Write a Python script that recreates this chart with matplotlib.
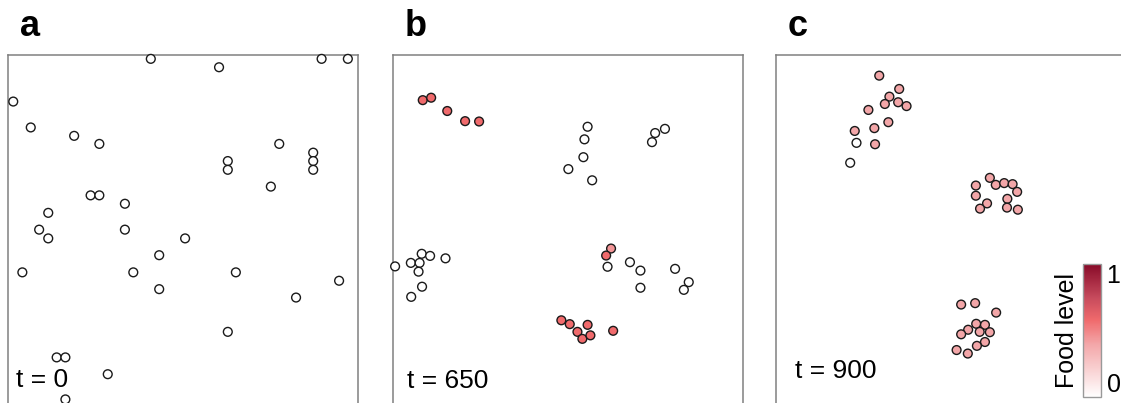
import numpy as np
import matplotlib.pyplot as plt
from matplotlib.colors import LinearSegmentedColormap

# agent positions (arena units 0-100) and food level for each snapshot
a_x = [40.8, 60.3, 89.6, 97.1, 1.5, 6.5, 18.9, 26.1, 77.5, 87.2, 87.2, 87.2,
       62.8, 62.8, 75.1, 23.6, 26.1, 33.4, 11.5, 8.9, 11.5, 33.4, 50.6, 43.2,
       4.1, 35.8, 65.1, 94.6, 43.2, 82.3, 62.8, 13.9, 16.4, 28.5, 16.4]
a_y = [98.9, 96.5, 98.9, 98.9, 86.7, 79.3, 76.9, 74.6, 74.6, 72.1, 69.7, 67.2,
       69.7, 67.2, 62.4, 59.9, 59.9, 57.5, 54.9, 50.1, 47.6, 50.1, 47.6, 42.8,
       37.9, 37.9, 37.9, 35.5, 33.1, 30.7, 20.9, 13.6, 13.6, 8.8, 1.6]
a_food = [0.0] * len(a_x)

b_x = [8.5, 10.9, 15.5, 20.6, 24.6, 62.3, 60.9,
       48.1, 50.5, 52.7, 54.1, 56.4, 55.6, 62.9,
       55.6, 54.7, 54.4, 50.1, 56.9, 74.0, 74.9, 77.7,
       0.6, 5.1, 7.6, 8.2, 10.6, 15.0, 7.3, 8.3, 5.2,
       61.3, 67.7, 70.7, 70.7, 80.6, 84.5, 83.1]
b_y = [87.1, 87.8, 84.0, 81.1, 81.0, 44.7, 42.7,
       24.2, 23.1, 20.9, 18.9, 19.9, 22.9, 21.2,
       79.5, 75.9, 70.8, 67.4, 64.2, 75.1, 77.7, 78.9,
       39.6, 40.6, 40.6, 43.2, 42.6, 41.9, 38.1, 33.8, 30.9,
       39.5, 40.8, 38.4, 33.5, 38.9, 35.1, 32.9]
b_food = [0.58, 0.58, 0.58, 0.58, 0.58, 0.45, 0.58,
          0.58, 0.58, 0.58, 0.58, 0.58, 0.58, 0.58] + [0.0] * 24

c_x = [29.5, 35.2, 32.4, 31.1, 34.9, 37.3, 26.4, 32.1, 28.1, 22.5, 28.3,
       23.0, 21.2,
       61.1, 62.8, 65.2, 67.6, 68.9, 57.1, 57.1, 66.1, 60.3, 58.3, 66.0, 69.1,
       52.9, 56.9, 62.9, 57.2, 59.7, 54.9, 58.2, 61.1, 52.9, 59.7, 57.4, 51.6, 54.8]
c_y = [94.1, 90.3, 88.1, 86.0, 86.5, 85.4, 84.3, 80.8, 79.1, 78.3, 74.5,
       74.9, 69.2,
       64.9, 62.9, 63.4, 63.1, 60.9, 62.7, 59.8, 58.9, 57.6, 56.1, 56.4, 55.8,
       28.7, 29.1, 26.4, 23.2, 22.9, 21.5, 20.9, 20.8, 20.2, 18.0, 16.9, 15.7, 14.7]
c_food = [0.4] * 11 + [0.0, 0.0] + [0.4] * 25

panels = [("a", "t = 0", a_x, a_y, a_food),
          ("b", "t = 650", b_x, b_y, b_food),
          ("c", "t = 900", c_x, c_y, c_food)]

food_cmap = LinearSegmentedColormap.from_list(
    "food", [(0, "#ffffff"), (0.4, "#f3a6a8"), (0.58, "#f06a6c"),
             (0.75, "#c64a5c"), (1, "#870a28")])

W, H = 1121, 403
fig = plt.figure(figsize=(W / 100, H / 100), dpi=100)
plt.rcParams['font.family'] = ['Liberation Sans', 'DejaVu Sans']

lefts = [8, 393, 776]
t_pos = [(0.023, 0.052), (0.039, 0.049), (0.054, 0.077)]
for (letter, tlabel, xs, ys, food), left, tp in zip(panels, lefts, t_pos):
    ax = fig.add_axes([left / W, -2 / H, 350 / W, 350 / H])
    sc = ax.scatter(xs, ys, c=food, cmap=food_cmap, vmin=0, vmax=1, s=40,
                    edgecolors="#1a1a1a", linewidths=1.0, zorder=3, clip_on=False)
    ax.set_xlim(0, 100)
    ax.set_ylim(0, 100)
    ax.set_xticks([])
    ax.set_yticks([])
    for sp in ax.spines.values():
        sp.set_color("#808080")
        sp.set_linewidth(1.1)
    ax.text(tp[0], tp[1], tlabel, transform=ax.transAxes, fontsize=19,
            va="baseline", ha="left")
    fig.text((left + 12) / W, (H - 36) / H, letter, fontsize=26,
             fontweight="bold", va="baseline", ha="left")

cax = fig.add_axes([1083.3 / W, (H - 397.3) / H, 17.7 / W, 133.3 / H])
cb = fig.colorbar(sc, cax=cax, ticks=[0, 1])
cb.outline.set_edgecolor("#999999")
cb.outline.set_linewidth(1.0)
cax.tick_params(length=0, labelsize=18, pad=4)
labels = cax.get_yticklabels()
labels[0].set_va("bottom")
labels[1].set_va("top")
cax.yaxis.set_label_position("left")
cax.set_ylabel("Food level", fontsize=18, labelpad=3)

fig.savefig("out.png", dpi=100)
